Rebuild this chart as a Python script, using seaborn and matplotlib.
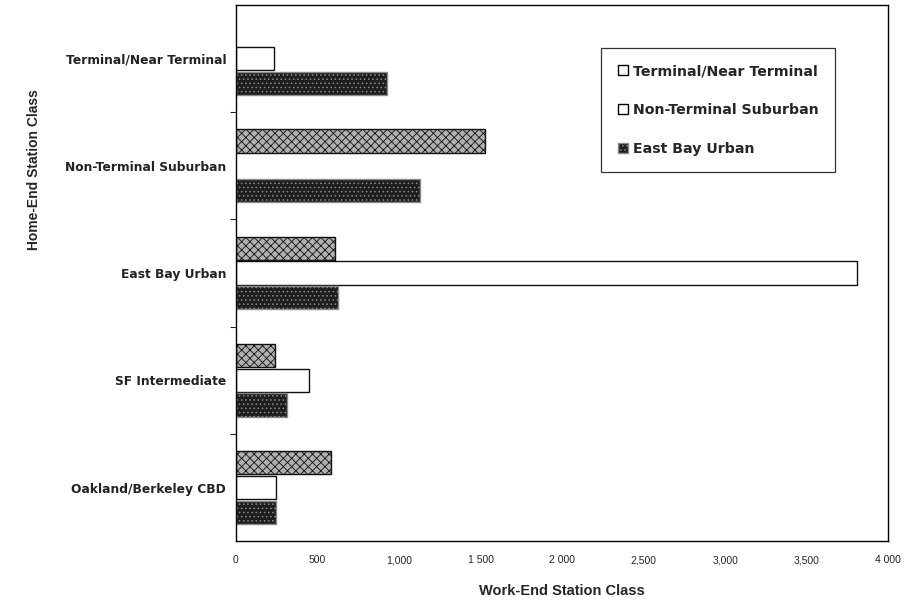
import numpy as np
import pandas as pd
import matplotlib
matplotlib.use("Agg")
import matplotlib.pyplot as plt
from matplotlib.patches import Patch
import seaborn as sns

# home-end station classes (y axis, top to bottom)
home_classes = [
    "Terminal/Near Terminal",
    "Non-Terminal Suburban",
    "East Bay Urban",
    "SF Intermediate",
    "Oakland/Berkeley CBD",
]
# work-end station classes (series)
work_classes = ["Terminal/Near Terminal", "Non-Terminal Suburban", "East Bay Urban"]

# trips per series
terminal_vals = [0, 1525, 605, 240, 585]
nonterminal_vals = [234, 0, 3810, 447, 246]
eastbay_vals = [925, 1130, 625, 314, 246]

x_ticks = [0, 500, 1000, 1500, 2000, 2500, 3000, 3500, 4000]
x_tick_labels = ["0", "500", "1,000", "1 500", "2 000", "2,500", "3,000", "3,500", "4 000"]

df = pd.DataFrame({
    "home": home_classes * 3,
    "work": np.repeat(work_classes, len(home_classes)),
    "trips": terminal_vals + nonterminal_vals + eastbay_vals,
})

sns.set_style("white")
plt.rcParams["font.family"] = ["Liberation Sans", "DejaVu Sans"]
plt.rcParams["hatch.linewidth"] = 0.6

fig = plt.figure(figsize=(9.11, 6.06), dpi=100)
ax = fig.add_axes([0.259, 0.107, 0.716, 0.885])

sns.barplot(data=df, y="home", x="trips", hue="work", order=home_classes,
            hue_order=work_classes, orient="h", width=0.69, gap=0.06,
            ax=ax, legend=False)

# per-series styling (patterned / white / dark stipple)
styles = [
    dict(facecolor="#b0b0b0", edgecolor="#111111", hatch="xxxx"),
    dict(facecolor="white", edgecolor="#111111", hatch=None),
    dict(facecolor="#1e1e1e", edgecolor="#8a8a8a", hatch="...."),
]
for cont, st in zip(ax.containers, styles):
    for bar in cont:
        bar.set_facecolor(st["facecolor"])
        bar.set_edgecolor(st["edgecolor"])
        bar.set_linewidth(1.0)
        if st["hatch"]:
            bar.set_hatch(st["hatch"])
        if bar.get_width() == 0:
            bar.set_visible(False)

ax.set_xlim(0, 4000)
ax.set_ylim(len(home_classes) - 0.5, -0.5)
ax.set_xticks(x_ticks)
ax.set_xticklabels(x_tick_labels, fontsize=7.5)
ax.set_yticks(range(len(home_classes)))
ax.set_yticklabels(home_classes, fontsize=8.8, fontweight="bold", color="#222222",
                   family="DejaVu Sans")
ax.set_yticks(np.arange(0.5, len(home_classes) - 0.5, 1), minor=True)
ax.tick_params(axis="y", which="major", length=0, pad=7)
ax.tick_params(axis="y", which="minor", length=4, direction="out", width=0.8, left=True)
ax.tick_params(axis="x", length=0, pad=10)

ax.set_xlabel("Work-End Station Class", fontsize=10.5, fontweight="bold", labelpad=14)
ax.set_ylabel("Home-End Station Class", fontsize=10, fontweight="bold")
ax.yaxis.set_label_coords(-0.299, 0.692)

for s in ax.spines.values():
    s.set_visible(True)
    s.set_color("black")
    s.set_linewidth(1.0)

handles = [
    Patch(facecolor="white", edgecolor="black", label=work_classes[0]),
    Patch(facecolor="white", edgecolor="black", label=work_classes[1]),
    Patch(facecolor="#1e1e1e", edgecolor="#8a8a8a", hatch="....", label=work_classes[2]),
]
leg = ax.legend(handles=handles, loc="upper right", bbox_to_anchor=(0.919, 0.92),
                frameon=True, fancybox=False, edgecolor="black",
                prop={"size": 10.2, "weight": "bold", "family": "DejaVu Sans"},
                labelspacing=1.75, handlelength=0.7, handleheight=0.7,
                handletextpad=0.4, borderpad=1.15, borderaxespad=0)
leg.get_frame().set_linewidth(0.9)

fig.savefig("out.png", dpi=100)
